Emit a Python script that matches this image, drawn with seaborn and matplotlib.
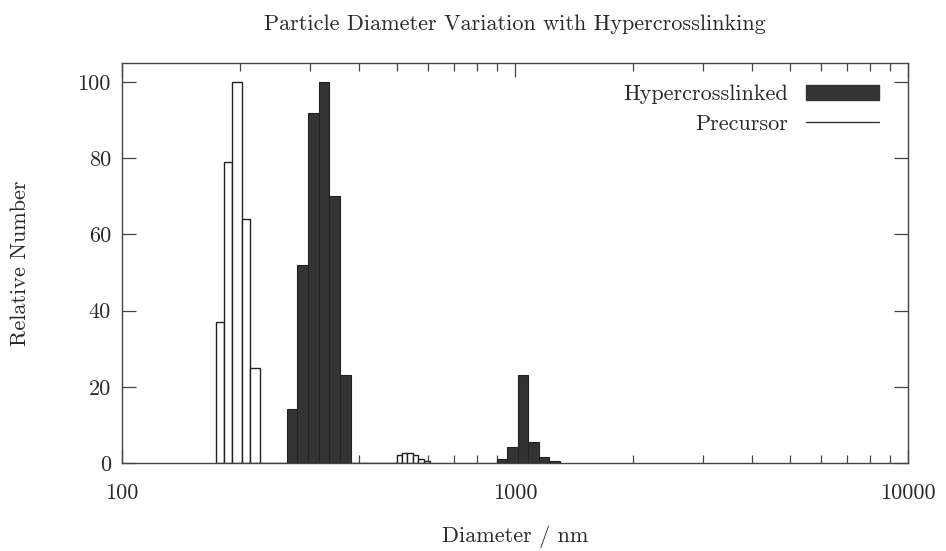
import numpy as np
import pandas as pd
import matplotlib
matplotlib.use("Agg")
import matplotlib.pyplot as plt
import seaborn as sns
from matplotlib.patches import Patch
from matplotlib.lines import Line2D
from matplotlib.ticker import FixedLocator, FixedFormatter, NullFormatter

# ---------------- data ----------------
# Precursor: bin edges (nm) and relative number per bin (empty gap bin = 0)
pre_edges = [173, 182, 191, 202, 212, 224, 501, 516, 531, 549, 567, 587, 608]
pre_heights = [37, 79, 100, 64, 25, 0, 2.0, 2.5, 2.5, 2.0, 1.0, 0.5]

# Hypercrosslinked: bin edges (nm) and relative number per bin
hyp_edges = [262.4, 279.4, 297.3, 316.4, 336.8, 358.5, 381.6,
             898.1, 955.1, 1015.8, 1080.2, 1148.8, 1221.7, 1299.3]
hyp_heights = [14.2, 52, 92, 100, 70, 23, 0, 1.0, 4.3, 23, 5.6, 1.7, 0.5]

x_ticks = [100, 1000, 10000]
x_tick_labels = ["100", "1000", "10000"]
y_ticks = [0, 20, 40, 60, 80, 100]

title = "Particle Diameter Variation with Hypercrosslinking"
xlabel = "Diameter / nm"
ylabel = "Relative Number"

# ---------------- style ----------------
sns.set_theme(style="ticks")
plt.rcParams["font.family"] = ["cmr10", "DejaVu Serif"]
plt.rcParams["axes.formatter.use_mathtext"] = True
txt = "#2a2a2a"
plt.rcParams["text.color"] = txt
plt.rcParams["axes.labelcolor"] = txt
plt.rcParams["xtick.color"] = "#444444"
plt.rcParams["ytick.color"] = "#444444"
plt.rcParams["xtick.labelcolor"] = txt
plt.rcParams["ytick.labelcolor"] = txt

FS = 16

fig = plt.figure(figsize=(9.46, 5.51), dpi=100)
ax = fig.add_axes([122 / 946, 1 - 463 / 551, (908 - 122) / 946, (463 - 63) / 551])


def centers(edges):
    e = np.log10(np.asarray(edges, dtype=float))
    return 10 ** ((e[:-1] + e[1:]) / 2)


pre_df = pd.DataFrame({"d": centers(pre_edges), "n": pre_heights})
hyp_df = pd.DataFrame({"d": centers(hyp_edges), "n": hyp_heights})

sns.histplot(data=hyp_df, x="d", weights="n", bins=list(np.log10(hyp_edges)),
             log_scale=True, stat="count", element="bars",
             color="#333333", edgecolor="#222222", linewidth=0.8, alpha=1.0, ax=ax)
sns.histplot(data=pre_df, x="d", weights="n", bins=list(np.log10(pre_edges)),
             log_scale=True, stat="count", element="bars",
             color="white", edgecolor="#222222", linewidth=1.0, alpha=1.0, fill=True, ax=ax)

ax.set_xlim(100, 10000)
ax.set_ylim(0, 105)
ax.xaxis.set_major_locator(FixedLocator(x_ticks))
ax.xaxis.set_major_formatter(FixedFormatter(x_tick_labels))
minor = [m * d for d in (100, 1000) for m in range(2, 10)]
ax.xaxis.set_minor_locator(FixedLocator(minor))
ax.xaxis.set_minor_formatter(NullFormatter())
ax.set_yticks(y_ticks)
ax.set_yticklabels([str(v) for v in y_ticks])

ax.tick_params(axis="both", which="both", direction="in", top=True, right=True,
               labelsize=FS)
ax.tick_params(axis="both", which="major", length=10, width=0.9)
ax.tick_params(axis="x", which="minor", length=6, width=0.9)
ax.tick_params(axis="x", which="major", pad=15)
ax.tick_params(axis="y", which="major", pad=8)
for s in ax.spines.values():
    s.set_visible(True)
    s.set_linewidth(1.0)
    s.set_color("#444444")

ax.set_xlabel(xlabel, fontsize=FS, labelpad=16)
ax.set_ylabel(ylabel, fontsize=FS, labelpad=34)
ax.set_title(title, fontsize=FS, pad=24)

handles = [Patch(facecolor="#333333", edgecolor="#333333"),
           Line2D([0], [0], color="#333333", lw=1.0)]
ax.legend(handles, ["Hypercrosslinked", "Precursor"], loc="upper right",
          bbox_to_anchor=(0.989, 0.996), frameon=False, markerfirst=False,
          fontsize=FS, handlelength=3.3, handleheight=0.7, labelspacing=0.45,
          handletextpad=0.8)

fig.savefig("out.png", dpi=100)
